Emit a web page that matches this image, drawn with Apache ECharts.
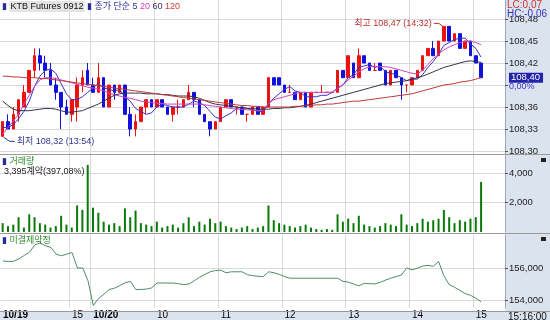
<!DOCTYPE html>
<html><head><meta charset="utf-8">
<script src="https://cdn.jsdelivr.net/npm/echarts@6/dist/echarts.min.js"></script>
<style>html,body{margin:0;padding:0;background:#fff}#c{width:550px;height:320px}</style>
</head><body><div id="c"></div>
<script>
// ---- categories (5-minute bars) ----
const sessionDays  = ['10/19', '10/20'];
const sessionStart = ['13:55', '09:00'];
const sessionEnd   = ['15:15', '15:25'];
const xTickLabels = {
  '10/19 13:55': '10/19', '10/19 15:00': '15', '10/20 09:00': '10/20',
  '10/20 10:00': '10', '10/20 11:00': '11', '10/20 12:00': '12',
  '10/20 13:00': '13', '10/20 14:00': '14', '10/20 15:00': '15'
};
// ---- price (OHLC) ----
const openP = [108.32,108.34,108.33,108.35,108.36,108.38,108.41,108.43,108.42,108.41,108.39,108.38,108.36,108.35,108.36,108.39,108.41,
108.39,108.38,108.40,108.36,108.39,108.38,108.39,108.35,108.33,108.34,108.36,108.37,108.36,108.37,108.36,108.35,108.36,108.36,108.37,108.38,
108.37,108.35,108.34,108.33,108.34,108.36,108.37,108.36,108.36,108.35,108.35,108.36,108.35,108.36,108.40,108.40,108.39,108.38,108.38,108.37,
108.38,108.36,108.38,108.38,108.38,108.38,108.38,108.41,108.40,108.42,108.40,108.43,108.42,108.41,108.42,108.41,108.39,108.41,108.40,108.39,
108.39,108.40,108.41,108.43,108.44,108.43,108.45,108.47,108.45,108.46,108.44,108.45,108.43,108.42];
const closeP = [108.34,108.33,108.35,108.37,108.38,108.41,108.43,108.42,108.41,108.39,108.38,108.36,108.35,108.37,108.39,108.40,108.39,
108.38,108.40,108.36,108.39,108.38,108.39,108.35,108.33,108.34,108.36,108.37,108.36,108.37,108.36,108.35,108.36,108.36,108.37,108.38,108.37,
108.35,108.34,108.33,108.34,108.36,108.37,108.36,108.36,108.35,108.35,108.36,108.35,108.36,108.40,108.39,108.39,108.38,108.38,108.37,108.38,
108.36,108.38,108.38,108.38,108.38,108.38,108.41,108.40,108.43,108.40,108.43,108.42,108.41,108.41,108.41,108.39,108.41,108.40,108.39,108.39,
108.40,108.41,108.43,108.44,108.43,108.45,108.47,108.45,108.46,108.44,108.45,108.43,108.42,108.40];
const lowP = [108.32,108.33,108.33,108.34,108.36,108.38,108.40,108.41,108.40,108.39,108.37,108.33,108.35,108.34,108.34,108.38,108.39,
108.38,108.38,108.36,108.36,108.37,108.38,108.35,108.32,108.32,108.34,108.35,108.36,108.36,108.36,108.35,108.34,108.35,108.36,108.37,108.36,
108.35,108.34,108.32,108.33,108.34,108.36,108.36,108.35,108.35,108.34,108.35,108.35,108.35,108.36,108.39,108.39,108.38,108.38,108.37,108.37,
108.36,108.36,108.38,108.38,108.38,108.38,108.38,108.40,108.40,108.40,108.40,108.42,108.41,108.41,108.41,108.39,108.39,108.40,108.37,108.38,
108.39,108.40,108.41,108.43,108.43,108.43,108.45,108.45,108.45,108.44,108.44,108.43,108.42,108.40];
const highP = [108.34,108.35,108.36,108.37,108.39,108.41,108.44,108.44,108.43,108.42,108.40,108.38,108.37,108.37,108.40,108.41,108.42,
108.40,108.42,108.40,108.39,108.39,108.39,108.39,108.36,108.35,108.36,108.37,108.37,108.37,108.37,108.36,108.36,108.37,108.37,108.39,108.38,
108.37,108.35,108.34,108.34,108.36,108.37,108.37,108.36,108.36,108.35,108.36,108.36,108.36,108.40,108.40,108.40,108.39,108.39,108.38,108.38,
108.38,108.38,108.38,108.39,108.38,108.38,108.41,108.41,108.43,108.42,108.44,108.43,108.42,108.42,108.42,108.41,108.41,108.41,108.40,108.39,
108.40,108.41,108.43,108.44,108.45,108.45,108.47,108.47,108.46,108.46,108.45,108.45,108.43,108.42];
// ---- moving averages ----
const ma5 = [108.332,108.332,108.336,108.344,108.354,108.368,108.388,108.402,108.410,108.412,108.406,108.392,108.378,108.370,108.370,108.374,108.380,
108.386,108.392,108.386,108.384,108.382,108.384,108.374,108.368,108.358,108.354,108.350,108.352,108.360,108.364,108.362,108.360,108.360,108.360,108.364,108.368,
108.366,108.362,108.354,108.346,108.344,108.348,108.352,108.358,108.360,108.358,108.356,108.354,108.354,108.364,108.372,108.378,108.384,108.388,108.382,108.380,
108.374,108.374,108.374,108.376,108.376,108.380,108.386,108.390,108.400,108.404,108.414,108.416,108.418,108.414,108.416,108.408,108.406,108.404,108.400,108.396,
108.398,108.398,108.404,108.414,108.422,108.432,108.444,108.448,108.452,108.454,108.454,108.446,108.440,108.428];
const ma20 = [108.323,108.332,108.341,108.350,108.364,108.376,108.388,108.397,108.400,108.400,108.399,108.397,108.395,108.393,108.391,108.389,108.387,
108.386,108.384,108.382,108.379,108.377,108.375,108.373,108.372,108.370,108.368,108.367,108.366,108.365,108.365,108.364,108.364,108.364,108.364,108.364,108.364,
108.364,108.363,108.362,108.361,108.360,108.359,108.358,108.357,108.357,108.356,108.356,108.355,108.355,108.365,108.370,108.372,108.374,108.376,108.378,108.380,
108.380,108.380,108.380,108.380,108.380,108.380,108.385,108.390,108.397,108.402,108.408,108.412,108.415,108.415,108.415,108.415,108.414,108.412,108.410,108.408,
108.406,108.405,108.410,108.418,108.426,108.432,108.438,108.442,108.445,108.448,108.450,108.450,108.448,108.445];
const ma60 = [108.368,108.362,108.357,108.355,108.355,108.355,108.356,108.357,108.358,108.358,108.357,108.355,108.353,108.353,108.354,108.355,108.358,
108.361,108.364,108.368,108.372,108.376,108.378,108.379,108.379,108.379,108.379,108.378,108.378,108.378,108.377,108.377,108.376,108.375,108.375,108.375,108.374,
108.372,108.369,108.366,108.364,108.363,108.362,108.361,108.360,108.359,108.358,108.358,108.357,108.357,108.357,108.358,108.358,108.359,108.359,108.360,108.361,
108.362,108.364,108.366,108.368,108.370,108.372,108.374,108.376,108.378,108.380,108.382,108.384,108.386,108.388,108.390,108.392,108.393,108.394,108.395,108.396,
108.398,108.400,108.402,108.405,108.408,108.411,108.414,108.416,108.418,108.420,108.422,108.423,108.422,108.421];
const ma120 = [108.402,108.402,108.401,108.401,108.400,108.400,108.400,108.399,108.399,108.398,108.397,108.396,108.395,108.394,108.393,108.392,108.391,
108.390,108.389,108.388,108.387,108.386,108.385,108.384,108.383,108.382,108.381,108.380,108.379,108.378,108.377,108.376,108.375,108.374,108.373,108.372,108.371,
108.370,108.369,108.368,108.367,108.366,108.365,108.364,108.363,108.362,108.362,108.361,108.361,108.360,108.360,108.360,108.360,108.360,108.360,108.361,108.361,
108.362,108.362,108.363,108.363,108.364,108.364,108.365,108.366,108.367,108.368,108.368,108.369,108.370,108.371,108.372,108.373,108.374,108.375,108.376,108.377,
108.378,108.380,108.382,108.384,108.386,108.388,108.390,108.391,108.392,108.394,108.395,108.396,108.398,108.400];
// ---- volume (contracts) ----
const volume = [600,400,500,1000,300,1200,1000,600,500,300,400,1100,500,300,1800,1500,4550,
1650,1300,700,500,600,400,1600,1000,1450,600,500,400,700,300,400,500,300,600,1000,400,
700,500,900,600,700,400,300,200,300,400,200,300,400,1800,800,600,500,400,300,400,
500,300,200,150,200,150,1200,700,900,600,1100,500,400,300,400,600,500,400,1200,500,
400,600,900,700,800,900,1500,1000,600,800,700,900,1000,3395];
// ---- open interest ----
const openInt = [156440,156400,156420,156560,156780,156980,157440,157560,157380,157280,156860,156760,156860,156960,156000,156000,155200,
153660,154100,154360,154660,154740,154900,155080,155160,154660,154660,154680,154760,155060,155060,155060,155060,155020,154960,155000,155200,
155420,155600,155760,155840,155860,155700,155760,155760,155760,155580,155520,155480,155460,155760,155700,155600,155460,155360,155360,155360,
155360,155360,155360,155360,155360,155360,155360,155160,155120,155000,154880,155040,155020,155000,155100,155240,155360,155460,155560,156000,
155880,155980,156120,156160,156100,156400,155500,154960,154800,154600,154400,154300,154120,153880];
const priceTicks = [108.30,108.33,108.36,108.39,108.42,108.45,108.48];
const priceLabels = [108.30,108.33,108.36,108.42,108.45,108.48]; // 108,39 hidden behind the last-price box
const volTicks = [2000,4000];
const oiTicks = [154000,156000];

function buildCats(){
  const out=[];
  for (let d=0; d<sessionDays.length; d++){
    let [h,m]=sessionStart[d].split(':').map(Number);
    const [eh,em]=sessionEnd[d].split(':').map(Number);
    while (h*60+m <= eh*60+em){
      out.push(sessionDays[d]+' '+String(h).padStart(2,'0')+':'+String(m).padStart(2,'0'));
      m+=5; if(m>=60){m-=60;h++;}
    }
  }
  return out;
}
const cats = buildCats();
const ohlc = openP.map((o,i)=>[o, closeP[i], lowP[i], highP[i]]);
const comma = v => String(v).replace('.', ',');
const thou = v => Math.round(v).toLocaleString('en-US');
const FONT = "'Liberation Sans','Noto Sans CJK KR',sans-serif";
const GRID = '#d9d9d9';
const isTick = (i) => xTickLabels[cats[i]] !== undefined;

const mkX = (gi, showLabel) => ({
  type:'category', gridIndex:gi, data:cats, boundaryGap:true,
  axisLine:{show:false}, axisTick:{show:false},
  axisLabel: showLabel ? {
    show:true, interval:(i)=>isTick(i), align:'left', margin:2,
    fontSize:10, fontFamily:FONT, color:'#000',
    formatter:(v)=>{ const t=xTickLabels[v]; return t.indexOf('/')>=0 ? '{b|'+t+'}' : t; },
    rich:{b:{fontWeight:'bold', fontSize:10, fontFamily:FONT, color:'#000'}}
  } : {show:false},
  splitLine:{show:true, interval:(i)=>isTick(i) && i>0, lineStyle:{color:GRID, width:1}}
});
const mkY = (gi, min, max, ticks, labels, fmt) => ({
  type:'value', gridIndex:gi, position:'right', min, max, scale:true,
  axisLine:{show:true, lineStyle:{color:'#9ea8bb'}},
  axisTick:{show:true, length:3, inside:false, customValues:ticks, lineStyle:{color:'#555'}},
  axisLabel:{show:true, customValues:labels, formatter:fmt, fontSize:9.5, fontFamily:FONT, color:'#222', margin:4},
  splitLine:{show:true, lineStyle:{color:GRID, width:1}}
});

const chart = echarts.init(document.getElementById('c'), null, {renderer:'canvas'});
const lastIdx = closeP.length-1;
const option = {
  animation:false,
  backgroundColor:'#fff',
  grid:[
    {left:0, right:45, top:0, height:154},
    {left:0, right:45, top:153, height:79},
    {left:0, right:45, top:235, height:76}
  ],
  xAxis:[mkX(0,false), mkX(1,false), mkX(2,true)],
  yAxis:[
    mkY(0, 108.2959, 108.5060, priceTicks, priceLabels, v=>Number(v).toFixed(2).replace('.', ',')),
    mkY(1, 0, 5356, volTicks, volTicks, thou),
    mkY(2, 153503, 158054, oiTicks, oiTicks, thou)
  ],
  series:[
    {type:'candlestick', xAxisIndex:0, yAxisIndex:0, data:ohlc, barWidth:3,
     itemStyle:{color:'#ee1111', color0:'#1111dd', borderColor:'#ee1111', borderColor0:'#1111dd', borderWidth:1},
     z:3,
     markLine:{silent:true, symbol:'none', animation:false,
       lineStyle:{color:'rgba(0,0,0,0)', width:0},
       data:[
         {yAxis:closeP[lastIdx], label:{show:true, position:'end', distance:4, formatter:()=>comma(closeP[lastIdx].toFixed(2)),
            backgroundColor:'#2323a8', color:'#fff', fontSize:9.5, fontFamily:FONT, padding:[1,3,0,2], lineHeight:9}},
         {yAxis:closeP[lastIdx], label:{show:true, position:'end', distance:4, offset:[0,9], formatter:'0,00%',
            color:'#3333cc', fontSize:9, fontFamily:FONT}}
       ]}
    },
    {type:'line', name:'5', xAxisIndex:0, yAxisIndex:0, data:ma5, symbol:'none', lineStyle:{color:'#3535c0', width:1}, z:4},
    {type:'line', name:'20', xAxisIndex:0, yAxisIndex:0, data:ma20, symbol:'none', lineStyle:{color:'#cc44c4', width:1}, z:4},
    {type:'line', name:'60', xAxisIndex:0, yAxisIndex:0, data:ma60, symbol:'none', lineStyle:{color:'#33334a', width:1}, z:4},
    {type:'line', name:'120', xAxisIndex:0, yAxisIndex:0, data:ma120, symbol:'none', lineStyle:{color:'#c03838', width:1}, z:4},
    {type:'bar', xAxisIndex:1, yAxisIndex:1, data:volume, barWidth:2, itemStyle:{color:'#0a7a0a'}},
    {type:'line', xAxisIndex:2, yAxisIndex:2, data:openInt, symbol:'none', lineStyle:{color:'#4e8c68', width:1}}
  ],
  graphic:[
    {type:'rect', shape:{x:505, y:0, width:45, height:320}, style:{fill:'#dbe3ef'}, z:-10, silent:true},
    {type:'rect', shape:{x:0, y:311, width:550, height:9}, style:{fill:'#dbe3ef'}, z:-10, silent:true},
    {type:'line', shape:{x1:0, y1:154.5, x2:550, y2:154.5}, style:{stroke:'#9a9a9a', lineWidth:1}, z:50},
    {type:'line', shape:{x1:0, y1:233.5, x2:550, y2:233.5}, style:{stroke:'#9a9a9a', lineWidth:1}, z:50},
    {type:'line', shape:{x1:0, y1:311.5, x2:550, y2:311.5}, style:{stroke:'#9a9a9a', lineWidth:1}, z:50},
    // legend
    {type:'text', x:2, y:1, z:50, style:{
      text:'{m|▮} {k|KTB Futures 0912} {m|▮} {n|종가 단순 5} {p|20} {d|60} {r|120}',
      font:'9px '+FONT,
      rich:{
        m:{fill:'#2a2a9a', font:'9px DejaVu Sans'},
        k:{fill:'#111', font:'9px '+FONT, backgroundColor:'#e4e4e4', padding:[1,1,1,1]},
        n:{fill:'#30309a', font:'9px '+FONT},
        p:{fill:'#d040c8', font:'9px '+FONT},
        d:{fill:'#33335a', font:'9px '+FONT},
        r:{fill:'#d03a3a', font:'9px '+FONT}
      }}},
    {type:'text', x:507, y:0, style:{text:'LC:0,07', fill:'#cc3333', font:'10px '+FONT}, z:50},
    {type:'text', x:507, y:9, style:{text:'HC:-0,06', fill:'#3333bb', font:'10px '+FONT}, z:50},
    // volume title
    {type:'text', x:2, y:157, z:50, style:{text:'{m|▮} {g|거래량}', font:'9px '+FONT,
      rich:{m:{fill:'#2a2a9a', font:'9px DejaVu Sans'}, g:{fill:'#2e8b2e', font:'9px '+FONT}}}},
    {type:'text', x:4, y:167, style:{text:'3,395계약(397,08%)', fill:'#222', font:'9px '+FONT}, z:50},
    {type:'rect', shape:{x:541, y:158, width:5, height:4}, style:{fill:'#222'}, z:50},
    // OI title
    {type:'text', x:2, y:236, z:50, style:{text:'{m|▮} {g|미결제약정}', font:'9px '+FONT,
      rich:{m:{fill:'#2a2a9a', font:'9px DejaVu Sans'}, g:{fill:'#2e8b2e', font:'9px '+FONT}}}},
    {type:'rect', shape:{x:541, y:237, width:5, height:4}, style:{fill:'#222'}, z:50},
    {type:'text', x:508, y:312, style:{text:'15:16:00', fill:'#111', font:'10px '+FONT}, z:50}
  ]
};
chart.setOption(option);

// high / low annotations, placed from the axis scales
const hiIdx = highP.indexOf(Math.max(...highP));
const loIdx = lowP.indexOf(Math.min(...lowP));
const hp = chart.convertToPixel({gridIndex:0}, [hiIdx, highP[hiIdx]]);
const lp = chart.convertToPixel({gridIndex:0}, [loIdx, lowP[loIdx]]);
chart.setOption({graphic: option.graphic.concat([
  {type:'text', x:hp[0]-12, y:hp[1]-3, style:{text:'최고 '+comma(highP[hiIdx].toFixed(2))+' (14:32)', fill:'#c03030', font:'9px '+FONT, align:'right', verticalAlign:'middle'}, z:60},
  {type:'polyline', shape:{points:[[hp[0]-10,hp[1]-3],[hp[0]-5,hp[1]-3],[hp[0]-1,hp[1]]]}, style:{stroke:'#c03030', lineWidth:1, fill:null}, z:60},
  {type:'text', x:lp[0]+14, y:lp[1]+5, style:{text:'최저 '+comma(lowP[loIdx].toFixed(2))+' (13:54)', fill:'#303090', font:'9px '+FONT, verticalAlign:'middle'}, z:60},
  {type:'polyline', shape:{points:[[lp[0]+12,lp[1]+5],[lp[0]+7,lp[1]+5],[lp[0]+1,lp[1]+1]]}, style:{stroke:'#303090', lineWidth:1, fill:null}, z:60}
])});
</script>
</body></html>
